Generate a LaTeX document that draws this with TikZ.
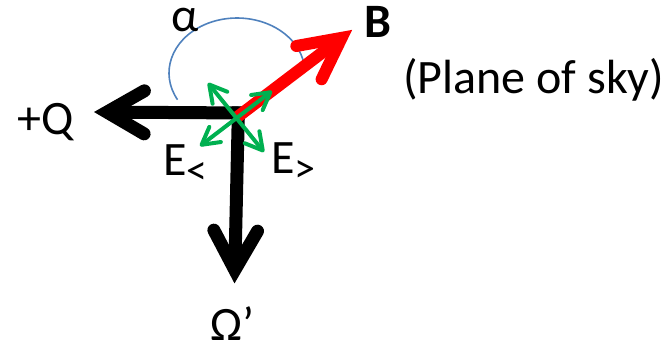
\documentclass[tikz,border=0pt]{standalone}
\usepackage{fontspec}
\setmainfont{Carlito}
\usetikzlibrary{calc,arrows.meta}
\definecolor{arcblue}{HTML}{4F81BD}
\definecolor{vecgreen}{HTML}{00B050}
\definecolor{vecred}{HTML}{FF0000}
\tikzset{
  lbl/.style={inner sep=0pt, font=\fontsize{48}{52}\selectfont},
  blackvec/.style={line width=13pt, black},
  redvec/.style={line width=12pt, vecred},
  headline/.style={line join=miter, miter limit=10, line cap=round},
  greenvec/.style={line width=4pt, vecgreen,
    {Straight Barb[length=17pt,width=19pt,round]}-{Straight Barb[length=17pt,width=19pt,round]}},
  anglearc/.style={line width=1.6pt, arcblue}
}
\newcommand{\subsym}[1]{\raisebox{-9pt}{\fontsize{42}{42}\selectfont #1}}
\begin{document}
\begin{tikzpicture}[x=1pt,y=-1pt]
\useasboundingbox (0,0) rectangle (672,346);
% angle arc
\coordinate (arcc) at (237,73);
\draw[anglearc] ($(arcc)+(151:68 and 55)$) arc[start angle=151, end angle=346, x radius=68, y radius=55];
% black +Q arrow
\coordinate (hS) at (245,113);
\coordinate (hT) at (93,112);
\coordinate (hV) at ($(hT)!14pt!(hS)$);
\coordinate (hA1) at ($(hV)!43pt!30:(hS)$);
\coordinate (hA2) at ($(hV)!43pt!-30:(hS)$);
\draw[blackvec, line cap=butt] (hS) -- (hV);
\draw[blackvec, headline] (hA1) -- (hV) -- (hA2);
% black Omega' arrow
\coordinate (vS) at (238.5,106.5);
\coordinate (vT) at (234.5,283.5);
\coordinate (vV) at ($(vT)!13.5pt!(vS)$);
\coordinate (vA1) at ($(vV)!45pt!29:(vS)$);
\coordinate (vA2) at ($(vV)!45pt!-29:(vS)$);
\draw[blackvec, line cap=butt] (vS) -- (vV);
\draw[blackvec, headline] (vA1) -- (vV) -- (vA2);
% red B arrow
\coordinate (rS) at (236,118);
\coordinate (rT) at (352,30);
\coordinate (rV) at ($(rT)!13pt!(rS)$);
\coordinate (rA1) at ($(rV)!46pt!27:(rS)$);
\coordinate (rA2) at ($(rV)!46pt!-27:(rS)$);
\draw[redvec, line cap=butt] (rS) -- (rV);
\draw[redvec, headline] (rA1) -- (rV) -- (rA2);
% green E arrows
\coordinate (g1a) at (200,146);
\coordinate (g1b) at (272,91);
\coordinate (g2a) at (208,83);
\coordinate (g2b) at (264,152);
\draw[greenvec] (g1a) -- (g1b);
\draw[greenvec] (g2a) -- (g2b);
% labels
\node[lbl, anchor=base west, text height=24pt, text depth=0pt] (alpha) at (171,31) {α};
\node[lbl, anchor=base west, font=\fontsize{48}{52}\selectfont\bfseries] (Blab) at (364,37) {B};
\node[lbl, anchor=base west] (plane) at (403,93) {(Plane of sky)};
\node[lbl, anchor=base west] (Qlab) at (17,134) {+Q};
\node[lbl, anchor=base west] (Eless) at (163,175) {E\subsym{<}};
\node[lbl, anchor=base west] (Egtr) at (271,173) {E\subsym{>}};
\node[lbl, anchor=base west, text depth=0pt] (Omega) at (210,340) {Ω’};
\end{tikzpicture}
\end{document}
